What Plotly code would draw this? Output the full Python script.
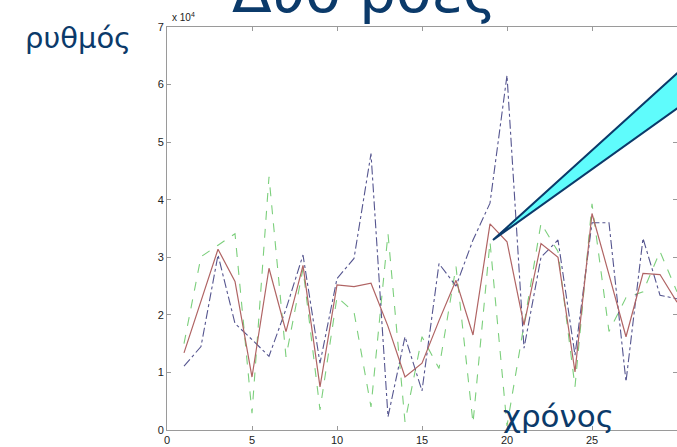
import plotly.graph_objects as go

# time steps
x = list(range(1, 31))

# rate values
red = [13400, 22400, 31400, 25800, 9200, 28100, 17100, 28600, 7500, 25200,
       24900, 25500, 18000, 9200, 11600, 19000, 26000, 16500, 35800, 32700,
       18200, 32400, 30000, 10100, 37600, 27000, 16200, 27200, 27000, 22200]
blue = [11100, 14500, 30400, 18500, 15700, 12800, 21000, 30400, 11600, 26300,
        29800, 48000, 2300, 16200, 6800, 28900, 25000, 33000, 39400, 61600,
        14200, 30000, 33000, 13000, 36000, 36000, 8400, 33300, 23400, 22800]
green = [15000, 30100, 32100, 34100, 2900, 44000, 12700, 28000, 3500, 23100,
         20500, 4000, 34100, 1400, 16200, 10700, 28400, 1200, 32700, 700,
         18300, 35900, 31000, 7500, 39300, 17100, 23000, 24000, 31000, 24000]

ytickvals = [0, 10000, 20000, 30000, 40000, 50000, 60000, 70000]
yticktext = ["0", "1", "2", "3", "4", "5", "6", "7"]
xtickvals = [0, 5, 10, 15, 20, 25, 30]
xticktext = ["0", "5", "10", "15", "20", "25", "30"]

title_text = "Δύο ροές"
ylabel_text = "ρυθμός"
xlabel_text = "χρόνος"

W, H = 677, 447
L, R, T, B = 167, 0, 27, 17
pw = W - L - R
ph = H - T - B

def px2x(px):
    return (px - L) / pw

def py2y(py):
    return (H - B - py) / ph

fig = go.Figure()
fig.add_trace(go.Scatter(x=x, y=green, mode="lines",
                         line=dict(color="#7ccf7c", width=1.1, dash="dash")))
fig.add_trace(go.Scatter(x=x, y=blue, mode="lines",
                         line=dict(color="#55558f", width=1.1, dash="dashdot")))
fig.add_trace(go.Scatter(x=x, y=red, mode="lines",
                         line=dict(color="#b06464", width=1.2)))

axis_common = dict(showgrid=False, zeroline=False, showline=True,
                   linecolor="#9a9a9a", linewidth=1, mirror="ticks",
                   ticks="inside", ticklen=4, tickcolor="#9a9a9a",
                   tickfont=dict(family="Liberation Sans", size=11, color="#222222"))

fig.update_layout(
    width=W, height=H,
    margin=dict(l=L, r=R, t=T, b=B),
    paper_bgcolor="white", plot_bgcolor="white",
    showlegend=False,
    xaxis=dict(range=[0, 30], tickvals=xtickvals, ticktext=xticktext,
               **axis_common),
    yaxis=dict(range=[0, 70000], tickvals=ytickvals, ticktext=yticktext,
               **axis_common),
)

navy = "#0b3a6a"
fig.add_annotation(xref="paper", yref="paper", x=px2x(364), y=py2y(-8),
                   text=title_text, showarrow=False, xanchor="center", yanchor="middle",
                   font=dict(family="DejaVu Sans", size=58, color=navy))
fig.add_annotation(xref="paper", yref="paper", x=px2x(78), y=py2y(38),
                   text=ylabel_text, showarrow=False, xanchor="center", yanchor="middle",
                   font=dict(family="DejaVu Sans", size=29, color=navy))
fig.add_annotation(xref="paper", yref="paper", x=px2x(558), y=py2y(416),
                   text=xlabel_text, showarrow=False, xanchor="center", yanchor="middle",
                   font=dict(family="DejaVu Sans", size=31, color=navy))
fig.add_annotation(xref="paper", yref="paper", x=px2x(170), y=py2y(17),
                   text="x 10<sup>4</sup>", showarrow=False, xanchor="left", yanchor="middle",
                   font=dict(family="Liberation Sans", size=10, color="#222222"))

# callout wedge
tip = (px2x(493), py2y(240))
up = (px2x(700), py2y(52.5))
lo = (px2x(700), py2y(92))
fig.add_shape(type="path", xref="paper", yref="paper",
              path=f"M {tip[0]} {tip[1]} L {up[0]} {up[1]} L {lo[0]} {lo[1]} Z",
              fillcolor="#5ffcfc", line=dict(color=navy, width=2), layer="above")

fig.write_html("out.html", config={"displayModeBar": False},
               post_script="document.body.style.margin='0px';")
